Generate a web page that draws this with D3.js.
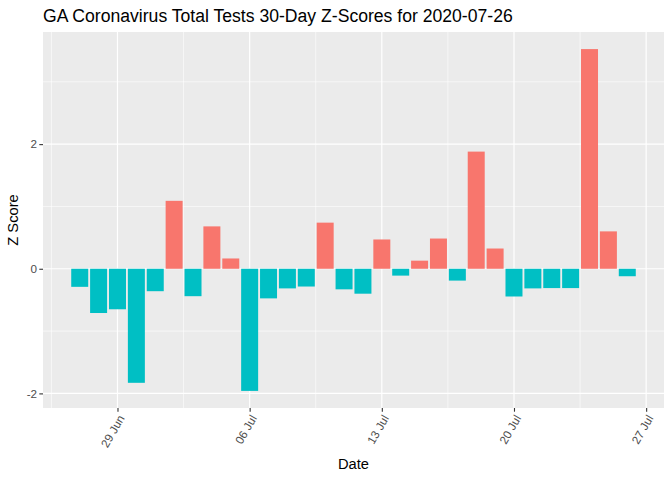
<!DOCTYPE html>
<html>
<head>
<meta charset="utf-8">
<script src="https://cdn.jsdelivr.net/npm/d3@7"></script>
<style>
  body { margin: 0; background: #ffffff; }
  svg { display: block; font-family: "Liberation Sans", Arial, sans-serif; }
</style>
</head>
<body>
<div id="chart"></div>
<script>
// one bar per day, 27 Jun to 26 Jul 2020
const dates = [
  "2020-06-27", "2020-06-28", "2020-06-29", "2020-06-30", "2020-07-01",
  "2020-07-02", "2020-07-03", "2020-07-04", "2020-07-05", "2020-07-06",
  "2020-07-07", "2020-07-08", "2020-07-09", "2020-07-10", "2020-07-11",
  "2020-07-12", "2020-07-13", "2020-07-14", "2020-07-15", "2020-07-16",
  "2020-07-17", "2020-07-18", "2020-07-19", "2020-07-20", "2020-07-21",
  "2020-07-22", "2020-07-23", "2020-07-24", "2020-07-25", "2020-07-26"
];
const zScores = [
  -0.29, -0.71, -0.65, -1.83, -0.36,
  1.09, -0.44, 0.68, 0.165, -1.96,
  -0.475, -0.315, -0.285, 0.74, -0.33,
  -0.40, 0.47, -0.11, 0.13, 0.485,
  -0.19, 1.88, 0.325, -0.445, -0.315,
  -0.31, -0.31, 3.525, 0.60, -0.12
];
const xTicks = ["2020-06-29", "2020-07-06", "2020-07-13", "2020-07-20", "2020-07-27"];
const xTickLabels = ["29 Jun", "06 Jul", "13 Jul", "20 Jul", "27 Jul"];
const yTicks = [-2, 0, 2];
const yTickLabels = ["-2", "0", "2"];
const yMinor = [-1, 1, 3];

(function () {
  const W = 672, H = 480;
  const margin = { top: 32, right: 8, bottom: 72, left: 43 },
    width = W - margin.left - margin.right,
    height = H - margin.top - margin.bottom;

  const parse = d3.utcParse("%Y-%m-%d");
  const DAY = 864e5;
  const data = dates.map((d, i) => ({ date: parse(d), z: zScores[i] }));

  const svg = d3
    .select("#chart")
    .append("svg")
    .attr("width", W)
    .attr("height", H);

  const g = svg
    .append("g")
    .attr("transform", `translate(${margin.left},${margin.top})`);

  // ggplot style 5% expansion around bar extents
  const xLo = +d3.min(data, (d) => d.date) - 0.45 * DAY,
    xHi = +d3.max(data, (d) => d.date) + 0.45 * DAY,
    xPad = (xHi - xLo) * 0.05;
  const x = d3
    .scaleUtc()
    .domain([new Date(xLo - xPad), new Date(xHi + xPad)])
    .range([0, width]);

  const yLo = Math.min(0, d3.min(zScores)),
    yHi = Math.max(0, d3.max(zScores)),
    yPad = (yHi - yLo) * 0.05;
  const y = d3
    .scaleLinear()
    .domain([yLo - yPad, yHi + yPad])
    .range([height, 0]);

  // panel
  g.append("rect")
    .attr("width", width)
    .attr("height", height)
    .attr("fill", "#EBEBEB");

  const majorX = xTicks.map(parse);
  const minorX = majorX.map((d) => new Date(+d - 3.5 * DAY));

  g.selectAll(".minor-x")
    .data(minorX)
    .join("line")
    .attr("x1", (d) => x(d))
    .attr("x2", (d) => x(d))
    .attr("y1", 0)
    .attr("y2", height)
    .attr("stroke", "#fff")
    .attr("stroke-width", 0.6);

  g.selectAll(".minor-y")
    .data(yMinor)
    .join("line")
    .attr("x1", 0)
    .attr("x2", width)
    .attr("y1", (d) => y(d))
    .attr("y2", (d) => y(d))
    .attr("stroke", "#fff")
    .attr("stroke-width", 0.6);

  g.selectAll(".major-x")
    .data(majorX)
    .join("line")
    .attr("x1", (d) => x(d))
    .attr("x2", (d) => x(d))
    .attr("y1", 0)
    .attr("y2", height)
    .attr("stroke", "#fff")
    .attr("stroke-width", 1.2);

  g.selectAll(".major-y")
    .data(yTicks)
    .join("line")
    .attr("x1", 0)
    .attr("x2", width)
    .attr("y1", (d) => y(d))
    .attr("y2", (d) => y(d))
    .attr("stroke", "#fff")
    .attr("stroke-width", 1.2);

  // bars
  g.selectAll(".bar")
    .data(data)
    .join("rect")
    .attr("class", "bar")
    .attr("x", (d) => x(new Date(+d.date - 0.45 * DAY)))
    .attr("width", (d) => x(new Date(+d.date + 0.45 * DAY)) - x(new Date(+d.date - 0.45 * DAY)))
    .attr("y", (d) => y(Math.max(0, d.z)))
    .attr("height", (d) => Math.abs(y(d.z) - y(0)))
    .attr("fill", (d) => (d.z > 0 ? "#F8766D" : "#00BFC4"));

  // axes
  const xAxis = g
    .append("g")
    .attr("transform", `translate(0,${height})`)
    .call(
      d3
        .axisBottom(x)
        .tickValues(majorX)
        .tickFormat((d, i) => xTickLabels[i])
        .tickSize(3.7)
        .tickPadding(0)
    );
  xAxis.select(".domain").remove();
  xAxis.selectAll(".tick line").attr("stroke", "#333333").attr("stroke-width", 1.1);
  xAxis
    .selectAll(".tick text")
    .attr("fill", "#4D4D4D")
    .attr("font-size", "11.7px")
    .attr("text-anchor", "end")
    .attr("x", 0)
    .attr("y", 0)
    .attr("dy", "0.7em")
    .attr("transform", "translate(0,6) rotate(-60)");

  const yAxis = g
    .append("g")
    .call(
      d3
        .axisLeft(y)
        .tickValues(yTicks)
        .tickFormat((d, i) => yTickLabels[i])
        .tickSize(3.7)
        .tickPadding(2.2)
    );
  yAxis.select(".domain").remove();
  yAxis.selectAll(".tick line").attr("stroke", "#333333").attr("stroke-width", 1.1);
  yAxis
    .selectAll(".tick text")
    .attr("fill", "#4D4D4D")
    .attr("font-size", "11.7px");

  // labels
  svg.append("text")
    .attr("x", margin.left)
    .attr("y", 22)
    .attr("font-size", "17.6px")
    .attr("fill", "#000")
    .text("GA Coronavirus Total Tests 30-Day Z-Scores for 2020-07-26");

  svg.append("text")
    .attr("x", margin.left + width / 2)
    .attr("y", 469)
    .attr("text-anchor", "middle")
    .attr("font-size", "14.7px")
    .attr("fill", "#000")
    .text("Date");

  svg.append("text")
    .attr("transform", `translate(18,${margin.top + height / 2}) rotate(-90)`)
    .attr("text-anchor", "middle")
    .attr("font-size", "14.7px")
    .attr("fill", "#000")
    .text("Z Score");
})();
</script>
</body>
</html>
